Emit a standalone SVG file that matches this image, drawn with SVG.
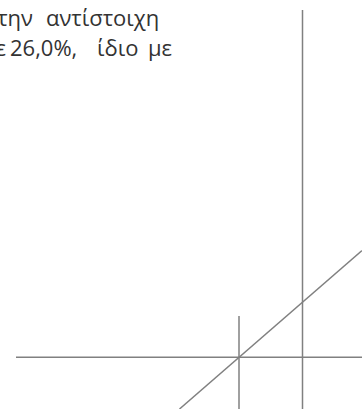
<svg xmlns="http://www.w3.org/2000/svg" width="362" height="409" viewBox="0 0 362 409">
<style>
.t{font-family:"Open Sans","Noto Sans",sans-serif;font-size:22px;fill:#333}
.ln{stroke:#808080;stroke-width:1.5;fill:none}
</style>
<rect width="362" height="409" fill="#fff"/>
<g id="text">
<text class="t" y="26"><tspan x="33" text-anchor="end">την</tspan><tspan x="46">αντίστοιχη</tspan></text>
<text class="t" y="56"><tspan x="6" text-anchor="end">ε</tspan><tspan x="10">26,0%,</tspan><tspan x="97">ίδιο</tspan><tspan x="172" text-anchor="end">με</tspan></text>
</g>
<g id="connectors">
<line class="ln" x1="302.5" y1="10" x2="302.5" y2="409"/>
<line class="ln" x1="239" y1="316" x2="239" y2="409"/>
<line class="ln" x1="16" y1="357.3" x2="362" y2="357.3"/>
<line class="ln" x1="179.5" y1="409" x2="362" y2="250.5"/>
</g>
</svg>
